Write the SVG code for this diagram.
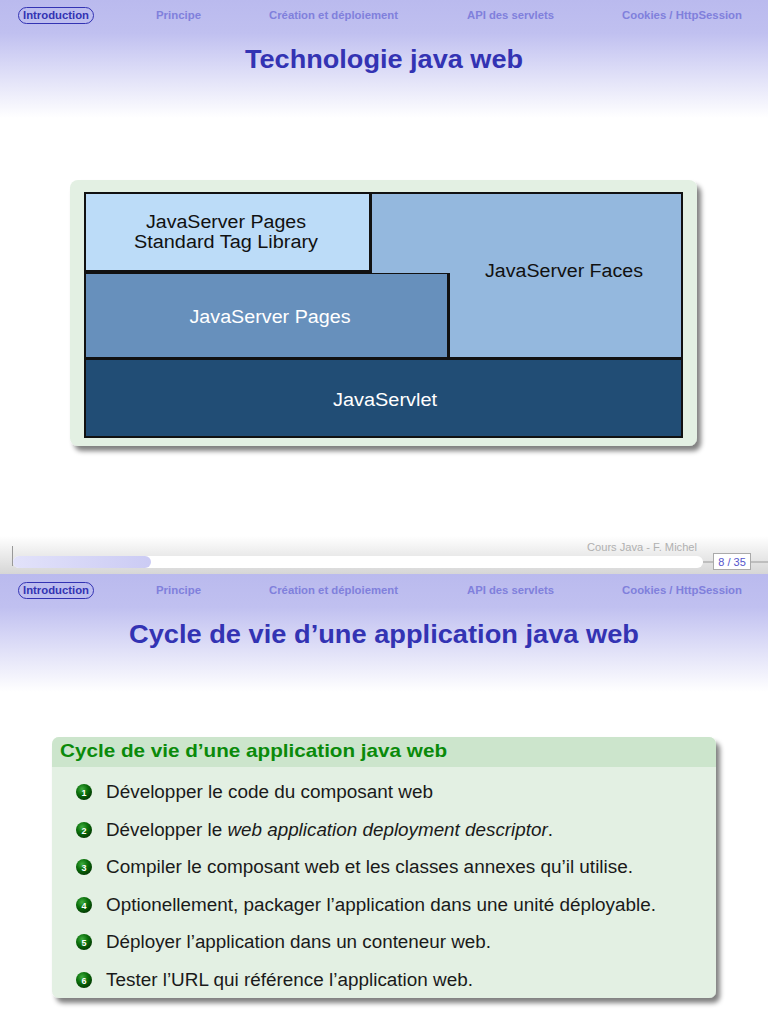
<svg xmlns="http://www.w3.org/2000/svg" width="768" height="1024" viewBox="0 0 768 1024">
<defs>
<linearGradient id="hdr" x1="0" y1="0" x2="0" y2="1">
<stop offset="0" stop-color="#babaee"/>
<stop offset="0.28" stop-color="#c0c0f0"/>
<stop offset="0.55" stop-color="#d8d8f6"/>
<stop offset="1" stop-color="#ffffff"/>
</linearGradient>
<linearGradient id="ftr" x1="0" y1="0" x2="0" y2="1">
<stop offset="0" stop-color="#ffffff"/>
<stop offset="1" stop-color="#d6d6d6"/>
</linearGradient>
<linearGradient id="prog" x1="0" y1="0" x2="1" y2="0">
<stop offset="0" stop-color="#e2e2fa"/>
<stop offset="1" stop-color="#cbcbf4"/>
</linearGradient>
<radialGradient id="ball" cx="0.38" cy="0.32" r="0.7">
<stop offset="0" stop-color="#3fae3f"/>
<stop offset="0.5" stop-color="#0b700b"/>
<stop offset="1" stop-color="#023a02"/>
</radialGradient>
<filter id="shadow" x="-5%" y="-5%" width="115%" height="120%">
<feGaussianBlur in="SourceAlpha" stdDeviation="2.5"/>
<feOffset dx="4" dy="5" result="b"/>
<feComponentTransfer><feFuncA type="linear" slope="0.5"/></feComponentTransfer>
<feMerge><feMergeNode/><feMergeNode in="SourceGraphic"/></feMerge>
</filter>
<style>
.nav{font-family:"Liberation Sans",Arial,sans-serif;font-size:11px;font-weight:bold;fill:#8080dc}
.navA{font-family:"Liberation Sans",Arial,sans-serif;font-size:11px;font-weight:bold;fill:#3333b3}
.title{font-family:"Liberation Sans",Arial,sans-serif;font-size:26px;font-weight:bold;fill:#3333b3}
.lbl{font-family:"Liberation Sans",Arial,sans-serif;font-size:18px;fill:#111}
.lblw{font-family:"Liberation Sans",Arial,sans-serif;font-size:18px;fill:#ffffff}
.item{font-family:"Liberation Sans",Arial,sans-serif;font-size:18px;fill:#1a1a1a}
.num{font-family:"Liberation Sans",Arial,sans-serif;font-size:9px;font-weight:bold;fill:#ffffff}
</style>
</defs>
<rect width="768" height="1024" fill="#ffffff"/>

<!-- Slide 1 header -->
<rect x="0" y="0" width="768" height="118" fill="url(#hdr)"/>
<g id="nav1">
<rect x="18.5" y="7.5" width="75" height="16" rx="8" fill="none" stroke="#3333b3" stroke-width="1"/>
<text class="navA" x="56" y="19" text-anchor="middle" textLength="66" lengthAdjust="spacingAndGlyphs">Introduction</text>
<text class="nav" x="178.5" y="19" text-anchor="middle" textLength="45" lengthAdjust="spacingAndGlyphs">Principe</text>
<text class="nav" x="333.5" y="19" text-anchor="middle" textLength="129" lengthAdjust="spacingAndGlyphs">Création et déploiement</text>
<text class="nav" x="510.5" y="19" text-anchor="middle" textLength="87" lengthAdjust="spacingAndGlyphs">API des servlets</text>
<text class="nav" x="682" y="19" text-anchor="middle" textLength="120" lengthAdjust="spacingAndGlyphs">Cookies / HttpSession</text>
</g>
<text class="title" x="384" y="68" text-anchor="middle" textLength="278" lengthAdjust="spacingAndGlyphs">Technologie java web</text>

<!-- Frame -->
<g id="frame">
<rect x="70" y="180" width="627" height="266" rx="8" fill="#e3f0e3" filter="url(#shadow)"/>
<rect x="84" y="192" width="599" height="246" fill="#111"/>
</g>
<g id="jstl">
<rect x="86" y="194" width="283" height="76" fill="#bcdcf8"/>
<text class="lbl" x="226" y="228" text-anchor="middle" textLength="160" lengthAdjust="spacingAndGlyphs">JavaServer Pages</text>
<text class="lbl" x="226" y="248" text-anchor="middle" textLength="184" lengthAdjust="spacingAndGlyphs">Standard Tag Library</text>
</g>
<g id="jsf">
<rect x="372" y="194" width="309" height="79" fill="#94b8de"/>
<rect x="450" y="194" width="231" height="163" fill="#94b8de"/>
<text class="lbl" x="564" y="277" text-anchor="middle" textLength="158" lengthAdjust="spacingAndGlyphs">JavaServer Faces</text>
</g>
<g id="jsp">
<rect x="86" y="274" width="361" height="83" fill="#6790bc"/>
<text class="lblw" x="270" y="323" text-anchor="middle" textLength="161" lengthAdjust="spacingAndGlyphs">JavaServer Pages</text>
</g>
<g id="servlet">
<rect x="86" y="360" width="595" height="76" fill="#214d75"/>
<text class="lblw" x="385" y="406" text-anchor="middle" textLength="104" lengthAdjust="spacingAndGlyphs">JavaServlet</text>
</g>

<!-- Slide 1 footer -->
<rect x="0" y="536" width="768" height="38" fill="url(#ftr)"/>
<text x="697" y="551" text-anchor="end" font-family="Liberation Sans, Arial, sans-serif" font-size="11" fill="#b0b0b0" textLength="110" lengthAdjust="spacingAndGlyphs">Cours Java - F. Michel</text>
<line x1="12.5" y1="546" x2="12.5" y2="566" stroke="#999" stroke-width="1"/>
<rect x="13" y="556" width="690" height="12" rx="6" fill="#ffffff"/>
<rect x="13" y="556" width="138" height="12" rx="6" fill="url(#prog)"/>
<line x1="703" y1="562" x2="713" y2="562" stroke="#999" stroke-width="1"/>
<line x1="751" y1="562" x2="768" y2="562" stroke="#999" stroke-width="1"/>
<rect x="713.5" y="553.5" width="37" height="16" fill="#ffffff" stroke="#aaa" stroke-width="1"/>
<text x="732" y="565.5" text-anchor="middle" font-family="Liberation Sans, Arial, sans-serif" font-size="11" fill="#5555cc">8 / 35</text>

<!-- Slide 2 header -->
<rect x="0" y="574" width="768" height="118" fill="url(#hdr)"/>
<g id="nav2">
<rect x="18.5" y="582.5" width="75" height="16" rx="8" fill="none" stroke="#3333b3" stroke-width="1"/>
<text class="navA" x="56" y="594" text-anchor="middle" textLength="66" lengthAdjust="spacingAndGlyphs">Introduction</text>
<text class="nav" x="178.5" y="594" text-anchor="middle" textLength="45" lengthAdjust="spacingAndGlyphs">Principe</text>
<text class="nav" x="333.5" y="594" text-anchor="middle" textLength="129" lengthAdjust="spacingAndGlyphs">Création et déploiement</text>
<text class="nav" x="510.5" y="594" text-anchor="middle" textLength="87" lengthAdjust="spacingAndGlyphs">API des servlets</text>
<text class="nav" x="682" y="594" text-anchor="middle" textLength="120" lengthAdjust="spacingAndGlyphs">Cookies / HttpSession</text>
</g>
<text class="title" x="384" y="643" text-anchor="middle" textLength="510" lengthAdjust="spacingAndGlyphs">Cycle de vie d’une application java web</text>

<!-- Block -->
<g id="block">
<rect x="52" y="737" width="664" height="261" rx="7" fill="#e3f0e3" filter="url(#shadow)"/>
<path d="M52 767 V744 a7 7 0 0 1 7 -7 H709 a7 7 0 0 1 7 7 V767 Z" fill="#cce5cc"/>
<text x="60" y="757" font-family="Liberation Sans, Arial, sans-serif" font-size="19" font-weight="bold" fill="#0a8a0a" textLength="387" lengthAdjust="spacingAndGlyphs">Cycle de vie d’une application java web</text>
</g>
<g id="items">
<circle cx="84" cy="792" r="8" fill="url(#ball)"/><text class="num" x="84" y="795.5" text-anchor="middle">1</text>
<text class="item" x="106" y="798" textLength="327" lengthAdjust="spacingAndGlyphs">Développer le code du composant web</text>
<circle cx="84" cy="830" r="8" fill="url(#ball)"/><text class="num" x="84" y="833.5" text-anchor="middle">2</text>
<text class="item" x="106" y="836" textLength="447" lengthAdjust="spacingAndGlyphs">Développer le <tspan font-style="italic">web application deployment descriptor</tspan>.</text>
<circle cx="84" cy="867" r="8" fill="url(#ball)"/><text class="num" x="84" y="870.5" text-anchor="middle">3</text>
<text class="item" x="106" y="873" textLength="527" lengthAdjust="spacingAndGlyphs">Compiler le composant web et les classes annexes qu’il utilise.</text>
<circle cx="84" cy="905" r="8" fill="url(#ball)"/><text class="num" x="84" y="908.5" text-anchor="middle">4</text>
<text class="item" x="106" y="911" textLength="550" lengthAdjust="spacingAndGlyphs">Optionellement, packager l’application dans une unité déployable.</text>
<circle cx="84" cy="942" r="8" fill="url(#ball)"/><text class="num" x="84" y="945.5" text-anchor="middle">5</text>
<text class="item" x="106" y="948" textLength="385" lengthAdjust="spacingAndGlyphs">Déployer l’application dans un conteneur web.</text>
<circle cx="84" cy="980" r="8" fill="url(#ball)"/><text class="num" x="84" y="983.5" text-anchor="middle">6</text>
<text class="item" x="106" y="986" textLength="367" lengthAdjust="spacingAndGlyphs">Tester l’URL qui référence l’application web.</text>
</g>
</svg>
